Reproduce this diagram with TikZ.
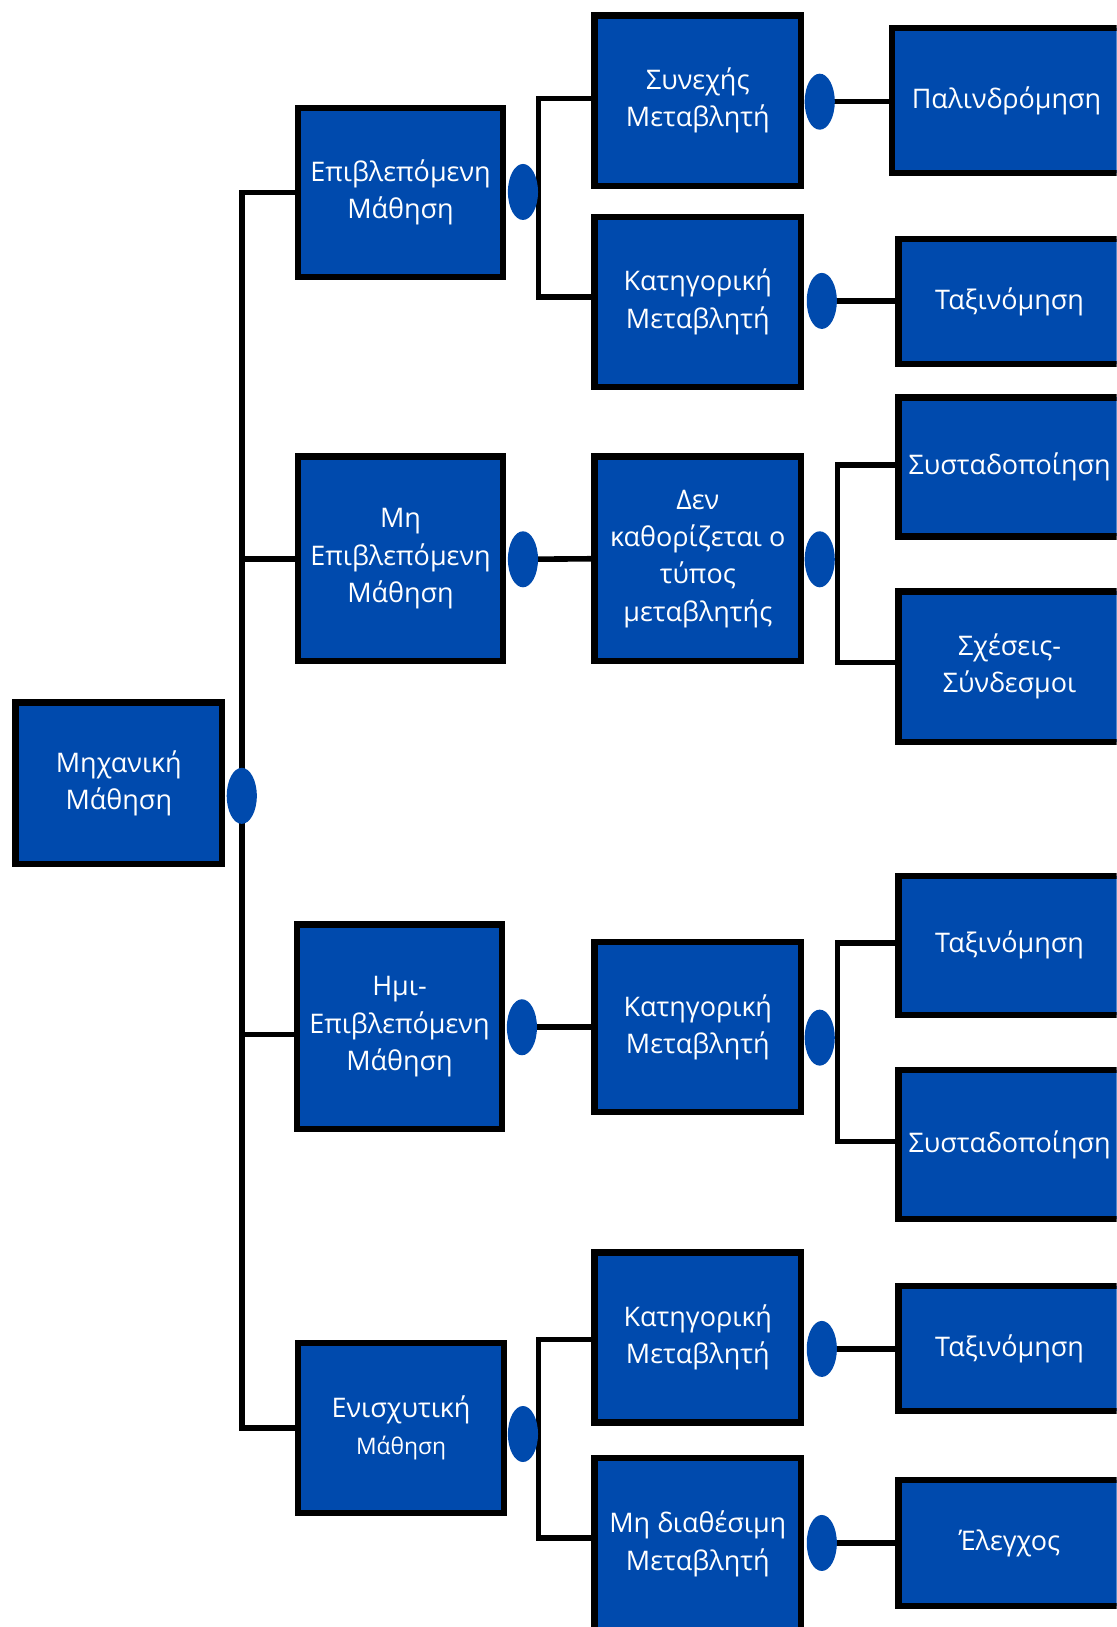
\documentclass[tikz,border=0pt]{standalone}
\usepackage{fontspec}
\setmainfont{Open Sans}
\usetikzlibrary{shapes.geometric}
\definecolor{boxblue}{HTML}{004AAD}
\begin{document}
\begin{tikzpicture}[x=0.5pt,y=-0.5pt,
  box/.style={draw=black, line width=3pt, fill=boxblue, text=white, align=center,
    inner sep=0pt, font=\fontsize{13}{18}\selectfont},
  dot/.style={ellipse, fill=boxblue, draw=none, minimum width=14.5pt, minimum height=27pt, inner sep=0pt},
  conn/.style={draw=black, line width=2.7pt, line join=miter}]
\useasboundingbox (0,0) rectangle (1076,1568);
\clip (0,0) rectangle (1076,1568);
% level 0
\node[box, minimum width=99.5pt, minimum height=78pt] (root) at (114.5,755) {Μηχανική\\Μάθηση};
% level 1
\node[box, minimum width=99pt, minimum height=81.5pt] (A) at (386,185.5) {Επιβλεπόμενη\\Μάθηση};
\node[box, minimum width=99pt, minimum height=98.5pt] (B) at (386,538.5) {Μη\\Επιβλεπόμενη\\Μάθηση};
\node[box, minimum width=99pt, minimum height=98.5pt] (C) at (385,989.5) {Ημι-\\Επιβλεπόμενη\\Μάθηση};
\node[box, minimum width=99pt, minimum height=82pt] (D) at (386.5,1376) {Ενισχυτική\\{\fontsize{11}{17}\selectfont Μάθηση}};
% level 2
\node[box, minimum width=99.5pt, minimum height=82pt] (A1) at (672.5,97) {Συνεχής\\Μεταβλητή};
\node[box, minimum width=99.5pt, minimum height=82pt] (A2) at (672.5,291) {Κατηγορική\\Μεταβλητή};
\node[box, minimum width=99.5pt, minimum height=98.5pt] (B1) at (672.5,538.5) {Δεν\\καθορίζεται ο\\τύπος\\μεταβλητής};
\node[box, minimum width=99.5pt, minimum height=82pt] (C1) at (672.5,990) {Κατηγορική\\Μεταβλητή};
\node[box, minimum width=99.5pt, minimum height=82pt] (D1) at (672.5,1289) {Κατηγορική\\Μεταβλητή};
\node[box, minimum width=99.5pt, minimum height=83pt] (D2) at (672.5,1488) {Μη διαθέσιμη\\Μεταβλητή};
% level 3
\node[box, minimum width=110pt, minimum height=70pt] (A1a) at (970,97) {Παλινδρόμηση};
\node[box, minimum width=107pt, minimum height=60.5pt] (A2a) at (973,290.5) {Ταξινόμηση};
\node[box, minimum width=107pt, minimum height=67pt] (B1a) at (973,450) {Συσταδοποίηση};
\node[box, minimum width=107pt, minimum height=72.5pt] (B1b) at (973,642.5) {Σχέσεις-\\Σύνδεσμοι};
\node[box, minimum width=107pt, minimum height=67pt] (C1a) at (973,911) {Ταξινόμηση};
\node[box, minimum width=107pt, minimum height=72pt] (C1b) at (973,1103) {Συσταδοποίηση};
\node[box, minimum width=107pt, minimum height=60.5pt] (D1a) at (973,1299.5) {Ταξινόμηση};
\node[box, minimum width=107pt, minimum height=61pt] (D2a) at (973,1487) {Έλεγχος};
% junction points
\coordinate (jA) at (519,190);
\coordinate (jB1) at (807,544);
\coordinate (jC1) at (807,1005);
\coordinate (jD) at (519,1387);
% ellipse positions
\coordinate (p0) at (233,767);
\coordinate (pA) at (504,185);
\coordinate (pB) at (504,539);
\coordinate (pC) at (503,990);
\coordinate (pD) at (504,1382);
\coordinate (pA1) at (790,98);
\coordinate (pA2) at (792,290);
\coordinate (pB1) at (790,539);
\coordinate (pC1) at (790,1000);
\coordinate (pD1) at (792,1300);
\coordinate (pD2) at (792,1487);
% connectors
\draw[conn] (A.west) -| (p0) |- (D.west);
\draw[conn] (B.west) -- (B.west -| p0);
\draw[conn] ([yshift=-3.75pt]C.west) -- ([yshift=-3.75pt]C.west -| p0);
\draw[conn] ([yshift=1pt]A1.west) -| (jA) |- ([yshift=2.5pt]A2.west);
\draw[conn] (pB) -- (B1.west);
\draw[conn] ([yshift=1pt]B1a.west) -| (jB1) |- ([yshift=2pt]B1b.west);
\draw[conn] (pC) -- (C1.west);
\draw[conn] ([yshift=1pt]C1a.west) -| (jC1) |- ([yshift=1.5pt]C1b.west);
\draw[conn] ([yshift=-1pt]D1.west) -| (jD) |- ([yshift=3pt]D2.west);
\draw[conn] (pA1) -- (pA1 -| A1a.west);
\draw[conn] (pA2) -- (pA2 -| A2a.west);
\draw[conn] (pD1) -- (pD1 -| D1a.west);
\draw[conn] (pD2) -- (pD2 -| D2a.west);
% ellipses
\node[dot] (e0) at (p0) {};
\node[dot] (eA) at (pA) {};
\node[dot] (eB) at (pB) {};
\node[dot] (eC) at (pC) {};
\node[dot] (eD) at (pD) {};
\node[dot] (eA1) at (pA1) {};
\node[dot] (eA2) at (pA2) {};
\node[dot] (eB1) at (pB1) {};
\node[dot] (eC1) at (pC1) {};
\node[dot] (eD1) at (pD1) {};
\node[dot] (eD2) at (pD2) {};
\end{tikzpicture}
\end{document}
